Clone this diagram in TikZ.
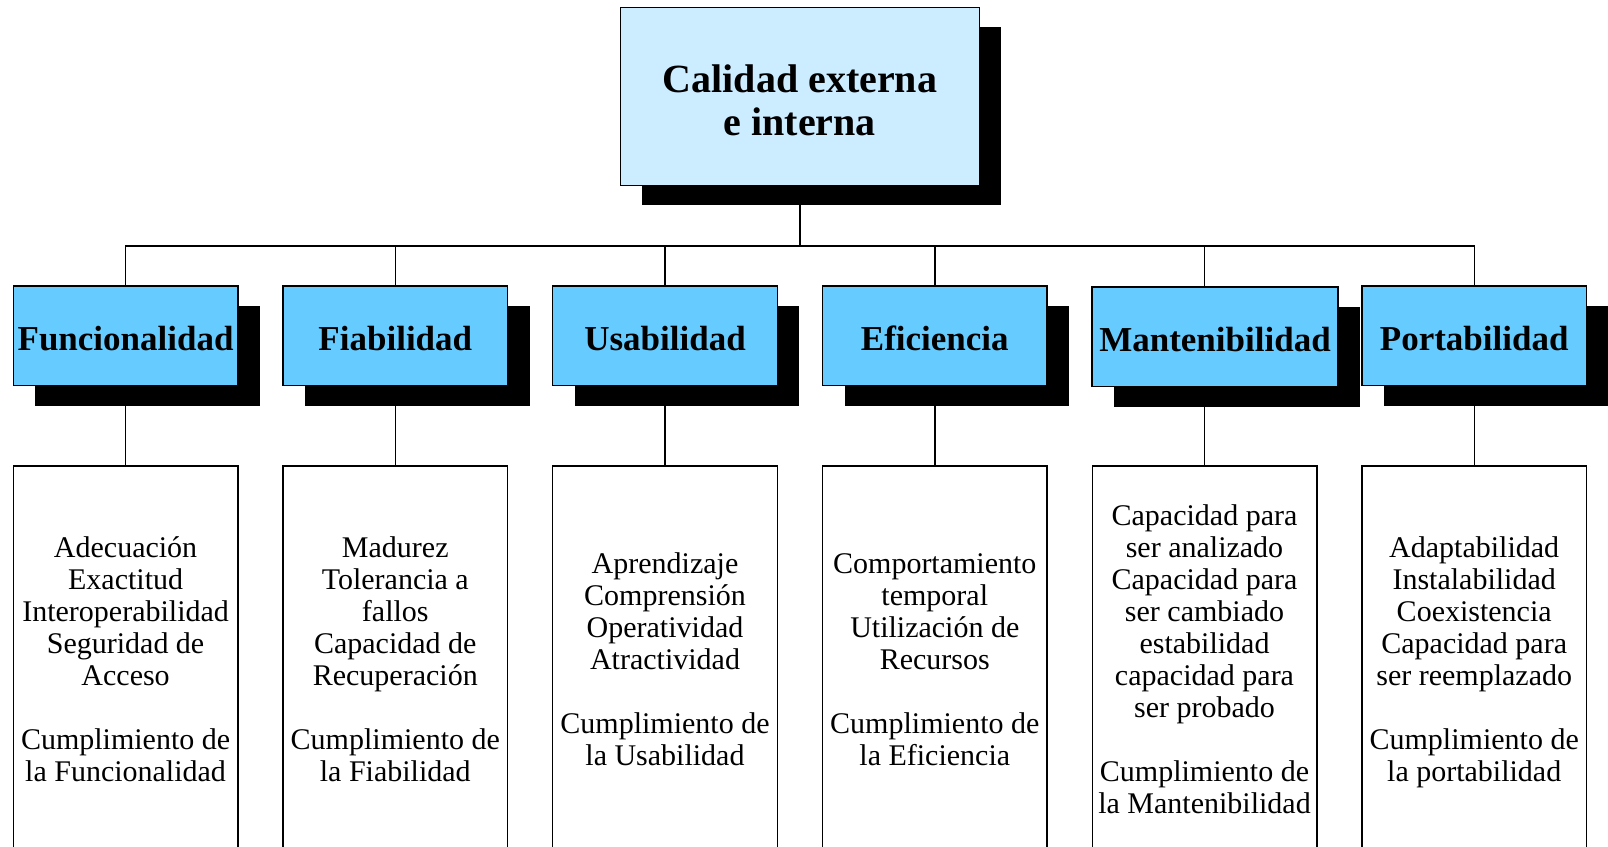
\documentclass[tikz,border=0pt]{standalone}
\usepackage{fontspec}
\setmainfont{Liberation Serif}
\usetikzlibrary{shadows}
\pgfdeclarelayer{back}
\pgfsetlayers{back,main}
\definecolor{topblue}{RGB}{204,236,255}
\definecolor{catblue}{RGB}{102,204,255}
\tikzset{
  boxline/.style={draw=black, line width=1.4pt},
  shad/.style={drop shadow={shadow xshift=22pt, shadow yshift=-20pt, opacity=1, fill=black}},
  topbox/.style={boxline, shad, fill=topblue, minimum width=359pt, minimum height=178pt, inner sep=0pt, align=center, font=\fontsize{40}{43}\selectfont\bfseries},
  catbox/.style={boxline, shad, fill=catblue, minimum height=99.5pt, inner sep=0pt, align=center, font=\fontsize{35}{40}\selectfont\bfseries},
  detbox/.style={boxline, fill=white, minimum width=224.6pt, minimum height=387pt, inner sep=0pt, align=center, font=\fontsize{30}{32}\selectfont},
  conn/.style={draw=black, line width=1.4pt}
}
\begin{document}
\begin{tikzpicture}[x=1pt, y=-1pt]
\clip (0,0) rectangle (1608,846);
\useasboundingbox (0,0) rectangle (1608,846);
\coordinate (bus) at (800,246);
\node[topbox, text height=78pt, text depth=0pt] (top) at (799.9,96.4) {Calidad externa\\e interna};

\node[catbox, minimum width=224.6pt, text height=30pt, text depth=0pt] (c1) at (125.6,335.9) {Funcionalidad};
\node[catbox, minimum width=224.6pt, text height=30pt, text depth=0pt] (c2) at (395.3,335.9) {Fiabilidad};
\node[catbox, minimum width=224.6pt, text height=30pt, text depth=0pt] (c3) at (665.0,335.9) {Usabilidad};
\node[catbox, minimum width=224.6pt, text height=30pt, text depth=0pt] (c4) at (934.8,335.9) {Eficiencia};
\node[catbox, minimum width=246pt, text height=30pt, text depth=0pt] (c5) at (1215.0,336.9) {Mantenibilidad};
\node[catbox, minimum width=224.6pt, text height=30pt, text depth=0pt] (c6) at (1474.2,335.9) {Portabilidad};

\node[detbox] (d1) at (125.6,659.5) {Adecuación\\Exactitud\\Interoperabilidad\\Seguridad de\\Acceso\\[32pt]Cumplimiento de\\la Funcionalidad};
\node[detbox] (d2) at (395.3,659.5) {Madurez\\Tolerancia a\\fallos\\Capacidad de\\Recuperación\\[32pt]Cumplimiento de\\la Fiabilidad};
\node[detbox] (d3) at (665.0,659.5) {Aprendizaje\\Comprensión\\Operatividad\\Atractividad\\[32pt]Cumplimiento de\\la Usabilidad};
\node[detbox] (d4) at (934.8,659.5) {Comportamiento\\temporal\\Utilización de\\Recursos\\[32pt]Cumplimiento de\\la Eficiencia};
\node[detbox] (d5) at (1204.5,659.5) {Capacidad para\\ser analizado\\Capacidad para\\ser cambiado\\estabilidad\\capacidad para\\ser probado\\[32pt]Cumplimiento de\\la Mantenibilidad};
\node[detbox, minimum height=393pt] (d6) at (1474.2,662.5) {Adaptabilidad\\Instalabilidad\\Coexistencia\\Capacidad para\\ser reemplazado\\[32pt]Cumplimiento de\\la portabilidad};

\begin{pgfonlayer}{back}
\foreach \i in {1,2,3,4,5,6}{
  \draw[conn] (top.south) -- (top.south |- bus) -| (d\i.north);
}
\end{pgfonlayer}
\end{tikzpicture}
\end{document}
